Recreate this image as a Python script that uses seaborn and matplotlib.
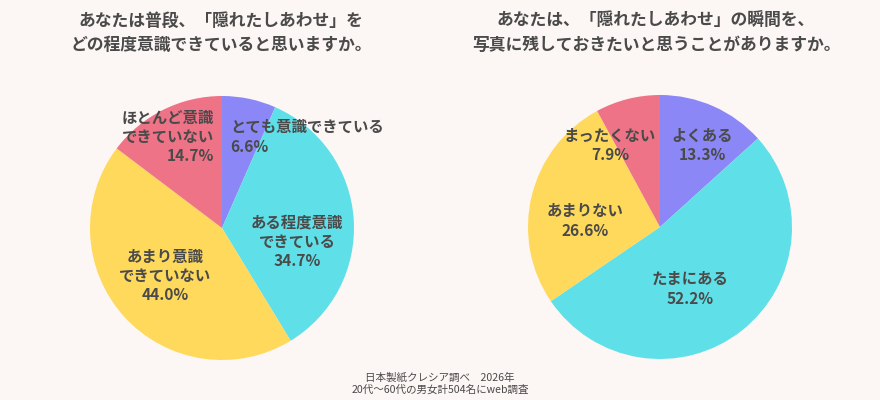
import matplotlib
matplotlib.use("Agg")
import matplotlib.pyplot as plt
import seaborn as sns

sns.set_theme(style="white")
plt.rcParams['font.family'] = ['Noto Sans CJK JP', 'DejaVu Sans']

BG = "#fcf6f4"
TXT = "#4a4a4a"

# Data
title1 = "あなたは普段、「隠れたしあわせ」を\nどの程度意識できていると思いますか。"
labels1 = ["とても意識できている", "ある程度意識\nできている", "あまり意識\nできていない", "ほとんど意識\nできていない"]
values1 = [6.6, 34.7, 44.0, 14.7]

title2 = "あなたは、「隠れたしあわせ」の瞬間を、\n写真に残しておきたいと思うことがありますか。"
labels2 = ["よくある", "たまにある", "あまりない", "まったくない"]
values2 = [13.3, 52.2, 26.6, 7.9]

colors = ["#8b87f6", "#5fe0e8", "#ffd95b", "#ee7387"]
footer = "日本製紙クレシア調べ　2026年\n20代～60代の男女計504名にweb調査"

W, H = 880, 400
fig = plt.figure(figsize=(W / 100, H / 100), dpi=100)
fig.patch.set_facecolor(BG)


def px(x, y):
    return x / W, 1 - y / H


def draw_pie(cx, cy, r, values):
    ax = fig.add_axes([(cx - r) / W, (H - cy - r) / H, 2 * r / W, 2 * r / H])
    ax.pie(values, colors=colors, startangle=90, counterclock=False,
           wedgeprops=dict(linewidth=0))
    ax.set_xlim(-1, 1)
    ax.set_ylim(-1, 1)
    ax.set_aspect("equal")
    ax.axis("off")
    return ax


draw_pie(222, 228, 132, values1)
draw_pie(660, 227, 132, values2)

# Titles
fig.text(*px(221, 33), title1, ha="center", va="center", fontsize=12.1,
         fontweight="bold", color=TXT, linespacing=1.4)
fig.text(*px(656, 33), title2, ha="center", va="center", fontsize=12.1,
         fontweight="bold", color=TXT, linespacing=1.4)

# Slice labels (text placement)
lab_kw = dict(fontsize=11.1, fontweight="bold", color=TXT, linespacing=1.25)
pos1 = [(230, 137, "left"), (297, 242, "center"), (165, 276, "center"), (214, 137, "right")]
for (x, y, ha), lab, v in zip(pos1, labels1, values1):
    fig.text(*px(x, y), f"{lab}\n{v:.1f}%", ha=ha, va="center", multialignment=ha, **lab_kw)

pos2 = [(702, 145, "center"), (690, 289, "center"), (585, 221, "center"), (610, 145, "center")]
for (x, y, ha), lab, v in zip(pos2, labels2, values2):
    fig.text(*px(x, y), f"{lab}\n{v:.1f}%", ha=ha, va="center", multialignment=ha, **lab_kw)

fig.text(*px(440, 384), footer, ha="center", va="center", fontsize=7.6,
         color=TXT, linespacing=1.2)

fig.savefig("out.png", dpi=100, facecolor=BG)
